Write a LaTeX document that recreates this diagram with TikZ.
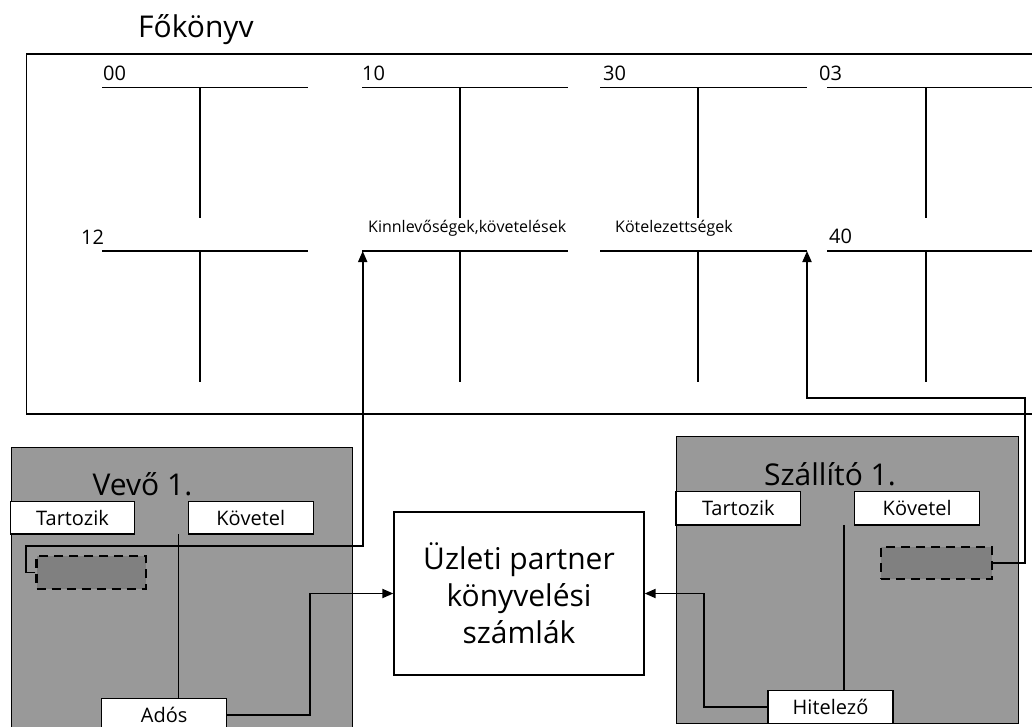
\documentclass[tikz,border=0pt]{standalone}
\usepackage{fontspec}
\setmainfont{Open Sans}
\usetikzlibrary{arrows.meta}
\definecolor{panelgray}{RGB}{153,153,153}
\definecolor{dashgray}{RGB}{128,128,128}
\begin{document}
\begin{tikzpicture}[x=1pt,y=-1pt,
  tl/.style={line width=1.4pt},
  conn/.style={line width=1.9pt,-{Triangle[length=11pt,width=9pt]}},
  panel/.style={draw=black,line width=1.3pt,fill=panelgray,anchor=north west,inner sep=0pt},
  tag/.style={draw,line width=1.3pt,fill=white,inner sep=0pt,font=\fontsize{20}{22}\selectfont},
  dbox/.style={draw,dash pattern=on 9pt off 6pt,line width=2.6pt,fill=dashgray,inner sep=0pt},
  big/.style={font=\fontsize{30}{36}\selectfont,inner sep=0pt},
  num/.style={font=\fontsize{20}{22}\selectfont,inner sep=0pt,anchor=base west},
  acc/.style={font=\fontsize{16}{18}\selectfont,inner sep=0pt,anchor=base west}
]
\useasboundingbox (0,0) rectangle (1032,726);

% Title and ledger frame
\node[big,anchor=base west] (fokonyv) at (138,37) {Főkönyv};
\draw[line width=1.5pt] (26.7,54) rectangle (1045,414);

% T-accounts, top row
\draw[tl] (102,87.5) -- (308,87.5) (200,87.5) -- (200,218);
\draw[tl] (362,87.5) -- (568,87.5) (460,87.5) -- (460,218);
\draw[tl] (600,87.5) -- (807,87.5) (698,87.5) -- (698,218);
\draw[tl] (827,87.5) -- (1045,87.5) (926,87.5) -- (926,218);
% T-accounts, bottom row
\draw[tl] (102,251) -- (308,251) (200,251) -- (200,382);
\draw[tl] (362,251) -- (568,251) (460,251) -- (460,382);
\draw[tl] (600,251) -- (807,251) (698,251) -- (698,382);
\draw[tl] (827,251) -- (1045,251) (926,251) -- (926,382);

\node[num] (n00) at (103,80) {00};
\node[num] (n10) at (362,80) {10};
\node[num] (n30) at (603,80) {30};
\node[num] (n03) at (819,80) {03};
\node[num] (n12) at (81,244) {12};
\node[num] (n40) at (829,243) {40};
\node[acc] (kinnl) at (368,232) {Kinnlevőségek,követelések};
\node[acc] (kotl) at (615,232) {Kötelezettségek};
\coordinate (kinn) at (362.7,251);
\coordinate (kotel) at (807,251);

% Vevő panel
\node[panel,minimum width=341pt,minimum height=300pt] (vevo) at (10.7,446.7) {};
\node[big,anchor=base] (vtitle) at (142.5,495) {Vevő 1.};
\node[tag,minimum width=123.6pt,minimum height=32.3pt] (vtart) at (72.5,517.9) {Tartozik};
\node[tag,minimum width=125pt,minimum height=32.3pt] (vkov) at (250.8,517.9) {Követel};
\node[tag,minimum width=125pt,minimum height=33pt,anchor=north] (ados) at (164.2,697.7) {Adós};
\draw[tl] (178.3,534) -- (178.3,697.7);
\node[dbox,minimum width=109.3pt,minimum height=33pt] (vdash) at (91.3,572.5) {};

% Szállító panel
\node[panel,minimum width=342pt,minimum height=287pt] (szall) at (676,436) {};
\node[big,anchor=base] (stitle) at (830,485) {Szállító 1.};
\node[tag,minimum width=124.6pt,minimum height=33.3pt] (start) at (738.3,508.2) {Tartozik};
\node[tag,minimum width=125.2pt,minimum height=33.3pt] (skov) at (917.2,508.2) {Követel};
\node[tag,minimum width=125pt,minimum height=33pt] (hitel) at (830.5,707) {Hitelező};
\draw[tl] (844,524.8) -- (844,690.5);
\node[dbox,minimum width=111pt,minimum height=32pt] (sdash) at (936.5,563) {};

% Central box
\node[draw,line width=1.3pt,fill=white,minimum width=250pt,minimum height=163pt,
  align=center,inner sep=0pt,font=\fontsize{30}{37}\selectfont] (uzleti) at (519,593.5)
  {Üzleti partner\\könyvelési\\számlák};

% Connectors
\draw[conn] (vdash.west) -- (26,572.5) -- (26,546) -- (362.7,546) -- (kinn);
\draw[conn] (sdash.east) -- (1025,563) -- (1025,398) -- (807,398) -- (kotel);
\draw[conn] (ados.east) -- ++(83,0) |- (uzleti.west);
\draw[conn] (hitel.west) -- ++(-63,0) |- (uzleti.east);
\end{tikzpicture}
\end{document}
